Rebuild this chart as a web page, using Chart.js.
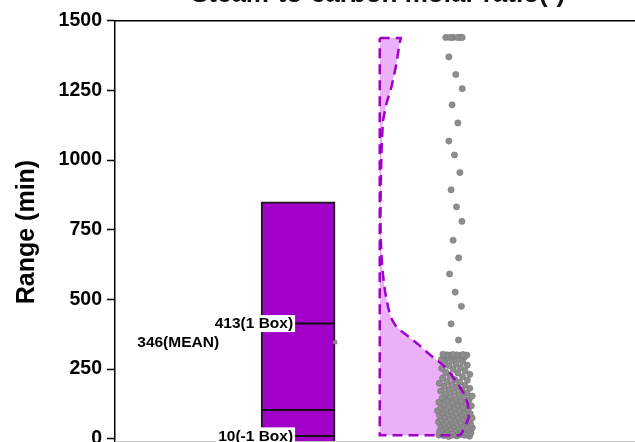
<!DOCTYPE html>
<html>
<head>
<meta charset="utf-8">
<script src="https://cdn.jsdelivr.net/npm/chart.js@4.4.1/dist/chart.umd.min.js"></script>
<style>
  html, body { margin: 0; padding: 0; background: #fff; width: 635px; height: 442px; overflow: hidden; }
  canvas { display: block; }
</style>
</head>
<body>
<canvas id="chart" width="660" height="448"></canvas>
<script>
// ---- data ----
const chartTitle = 'Steam-to-carbon molar ratio(-)';
const yTitle = 'Range (min)';
const yTickValues = [0, 250, 500, 750, 1000, 1250, 1500];

// box statistics (min)
const boxRange = [-158, 850];
const boxMean = 346;
const boxUpper = 413;   // "1 Box"
const boxLower = 10;    // "-1 Box"
const boxMedian = 103;

// distribution curve: levels (min) and relative density
const violinLevels  = [1438, 1400, 1346, 1300, 1262, 1230, 1202, 1170, 1142, 1080, 1022, 960, 901, 840, 781, 720, 661, 610, 565, 530, 500, 470, 445, 425, 405, 385, 366, 340, 312, 290, 264, 235, 204, 180, 156, 125, 96, 75, 60, 38, 18, 12];
const violinDensity = [0.235, 0.213, 0.187, 0.157, 0.131, 0.101, 0.075, 0.054, 0.037, 0.026, 0.019, 0.015, 0.011, 0.009, 0.008, 0.011, 0.019, 0.029, 0.045, 0.059, 0.076, 0.096, 0.115, 0.140, 0.179, 0.246, 0.325, 0.426, 0.523, 0.605, 0.709, 0.789, 0.859, 0.907, 0.952, 0.985, 1.0, 0.994, 0.978, 0.946, 0.915, 0.896];

// individual observations (min)
const rangeValues = [
  8, 9, 10, 11, 12, 12, 13, 14, 15, 16, 17, 18, 19, 20, 21, 22, 23, 24, 26, 27,
  28, 30, 31, 33, 34, 35, 36, 39, 40, 42, 44, 45, 47, 48, 50, 52, 54, 55, 57, 58,
  60, 61, 63, 64, 66, 68, 70, 72, 74, 76, 78, 79, 82, 83, 86, 88, 90, 92, 93, 96,
  98, 100, 101, 104, 106, 109, 111, 113, 116, 118, 121, 125, 127, 129, 131, 134, 138, 140, 143, 146,
  149, 151, 153, 158, 160, 164, 168, 171, 174, 176, 181, 185, 188, 191, 193, 199, 203, 205, 210, 212,
  218, 223, 226, 231, 236, 238, 244, 249, 252, 255, 262, 264, 268, 274, 276, 281, 284, 287, 291, 294,
  296, 298, 299, 300, 300, 301, 301, 302, 302, 303,
  354, 412, 475, 526, 591, 649, 712, 780, 832, 893, 955, 1018, 1068, 1133, 1198, 1256, 1307, 1370,
  1440, 1440, 1440, 1440, 1440, 1440
];

// ---- layout (x positions in axis units) ----
const X_MIN = -0.166, X_MAX = 3.184;
const BOX_X = 1, BOX_HALF = 0.2357;
const VIOLIN_X = 1.52, VIOLIN_SPAN = 0.569;
const DOTS_X = 2;
const PX_PER_UNIT = 157;

const FONT = "'Liberation Sans', Arial, Helvetica, sans-serif";
const PURPLE = '#a000c8';
const VIOLIN_FILL = '#ecb0f9';

// density at a given value
function densityAt(v) {
  for (let i = 0; i < violinLevels.length - 1; i++) {
    const a = violinLevels[i], b = violinLevels[i + 1];
    if (v <= a && v >= b) {
      const t = (a - v) / (a - b);
      return violinDensity[i] + t * (violinDensity[i + 1] - violinDensity[i]);
    }
  }
  return v > violinLevels[0] ? violinDensity[0] : violinDensity[violinDensity.length - 1];
}

// outline of the distribution curve
const violinPath = [{ x: VIOLIN_X, y: violinLevels[0] }];
violinLevels.forEach((lv, i) => violinPath.push({ x: VIOLIN_X + violinDensity[i] * VIOLIN_SPAN, y: lv }));
violinPath.push({ x: VIOLIN_X, y: violinLevels[violinLevels.length - 1] });
violinPath.push({ x: VIOLIN_X, y: violinLevels[0] });

// points spread sideways in proportion to the local density
const dotPoints = rangeValues.map((v, i) => {
  const spreadPx = 7 + 11 * densityAt(v);
  const u = ((i * 0.6180339887 + 0.31) % 1) - 0.5;
  return { x: DOTS_X + (2 * u * spreadPx) / PX_PER_UNIT, y: v };
});

function hLine(v) {
  return [{ x: BOX_X - BOX_HALF, y: v }, { x: BOX_X + BOX_HALF, y: v }];
}

// fills the closed distribution outline underneath every dataset;
// its dashed border is stroked later, above the points
const violinFill = {
  id: 'violinFill',
  beforeDatasetsDraw(chart) {
    const idx = chart.data.datasets.findIndex(d => d.id === 'violin');
    if (idx < 0) return;
    const pts = chart.getDatasetMeta(idx).data;
    const { ctx, chartArea: a } = chart;
    ctx.save();
    ctx.beginPath();
    ctx.rect(a.left, a.top, a.right - a.left, a.bottom - a.top);
    ctx.clip();
    ctx.beginPath();
    pts.forEach((p, i) => (i ? ctx.lineTo(p.x, p.y) : ctx.moveTo(p.x, p.y)));
    ctx.closePath();
    ctx.fillStyle = VIOLIN_FILL;
    ctx.fill();
    ctx.restore();
  }
};

// title, frame lines and the value tags on the box
const decorations = {
  id: 'decorations',
  afterDatasetsDraw(chart) {
    const { ctx, chartArea: a, scales: { x, y } } = chart;
    ctx.save();
    // top frame line
    ctx.strokeStyle = '#000';
    ctx.lineWidth = 1.5;
    ctx.beginPath();
    ctx.moveTo(a.left, a.top);
    ctx.lineTo(a.right, a.top);
    ctx.stroke();
    // bottom axis line
    ctx.strokeStyle = '#c4c4c4';
    ctx.lineWidth = 1;
    const by = Math.min(a.bottom, 441.5);
    ctx.beginPath();
    ctx.moveTo(a.left, by);
    ctx.lineTo(a.right, by);
    ctx.stroke();

    // chart title
    ctx.fillStyle = '#111';
    ctx.font = `bold 26px ${FONT}`;
    ctx.textAlign = 'center';
    ctx.textBaseline = 'alphabetic';
    ctx.fillText(chartTitle, (a.left + a.right) / 2, 2);

    // value tags
    const cx = x.getPixelForValue(BOX_X);
    ctx.font = `bold 15.5px ${FONT}`;
    ctx.textAlign = 'right';
    ctx.textBaseline = 'middle';
    const tag = (text, right, v, bg) => {
      const py = y.getPixelForValue(v);
      const w = ctx.measureText(text).width;
      if (bg) {
        ctx.fillStyle = '#fff';
        ctx.fillRect(right - w - 2, py - 8.5, w + 4, 17);
      }
      ctx.fillStyle = '#000';
      ctx.fillText(text, right, py + 0.5);
    };
    tag(`${boxUpper}(1 Box)`, cx - 5, boxUpper, true);
    tag(`${boxLower}(-1 Box)`, cx - 5, boxLower, true);
    tag(`${boxMean}(MEAN)`, cx - 79, boxMean, false);
    ctx.restore();
  }
};

new Chart(document.getElementById('chart'), {
  type: 'bar',
  data: {
    datasets: [
      {
        type: 'scatter',
        label: 'mean',
        data: [{ x: BOX_X + BOX_HALF, y: boxMean }],
        pointStyle: 'rect',
        pointRadius: 2.5,
        backgroundColor: '#8c8c8c',
        borderColor: '#777',
        borderWidth: 0.5,
        order: 0
      },
      {
        type: 'line',
        id: 'violin',
        label: 'distribution',
        data: violinPath,
        borderColor: PURPLE,
        borderWidth: 2.5,
        borderDash: [10, 6],
        fill: false,
        tension: 0,
        pointRadius: 0,
        order: 0.5
      },
      {
        type: 'scatter',
        label: 'observations',
        data: dotPoints,
        pointRadius: 3.1,
        backgroundColor: '#8e8e8e',
        borderColor: '#767676',
        borderWidth: 0.6,
        order: 1
      },
      { type: 'line', data: hLine(boxUpper), borderColor: '#111', borderWidth: 2, pointRadius: 0, order: 2 },
      { type: 'line', data: hLine(boxMedian), borderColor: '#111', borderWidth: 2, pointRadius: 0, order: 2 },
      { type: 'line', data: hLine(boxLower), borderColor: '#111', borderWidth: 2, pointRadius: 0, order: 2 },
      {
        type: 'bar',
        label: 'box',
        data: [{ x: BOX_X, y: boxRange }],
        backgroundColor: PURPLE,
        borderColor: '#1a1a1a',
        borderWidth: 2,
        borderSkipped: false,
        barThickness: 74,
        order: 3
      }
    ]
  },
  options: {
    responsive: false,
    animation: false,
    events: [],
    layout: { padding: { top: 20.7, left: 0, right: 19, bottom: 0 } },
    plugins: { legend: { display: false }, tooltip: { enabled: false }, title: { display: false } },
    scales: {
      x: {
        type: 'linear',
        display: false,
        offset: false,
        min: X_MIN,
        max: X_MAX
      },
      y: {
        type: 'linear',
        min: -17,
        max: 1500,
        afterBuildTicks(scale) {
          scale.ticks = yTickValues.map(v => ({ value: v }));
        },
        afterFit(scale) {
          scale.width = 115;
          scale.paddingTop = 0;
          scale.paddingBottom = 0;
        },
        grid: {
          drawOnChartArea: false,
          drawTicks: true,
          tickLength: 8,
          tickWidth: 1.5,
          tickColor: '#000'
        },
        border: { display: true, color: '#000', width: 1.5 },
        ticks: {
          color: '#000',
          padding: 5,
          font: { family: FONT, size: 19.5, weight: 'bold' },
          callback: v => String(v)
        },
        title: {
          display: true,
          text: yTitle,
          color: '#000',
          padding: { top: 12, bottom: 0 },
          font: { family: FONT, size: 25, weight: 'bold' }
        }
      }
    }
  },
  plugins: [violinFill, decorations]
});
</script>
</body>
</html>
